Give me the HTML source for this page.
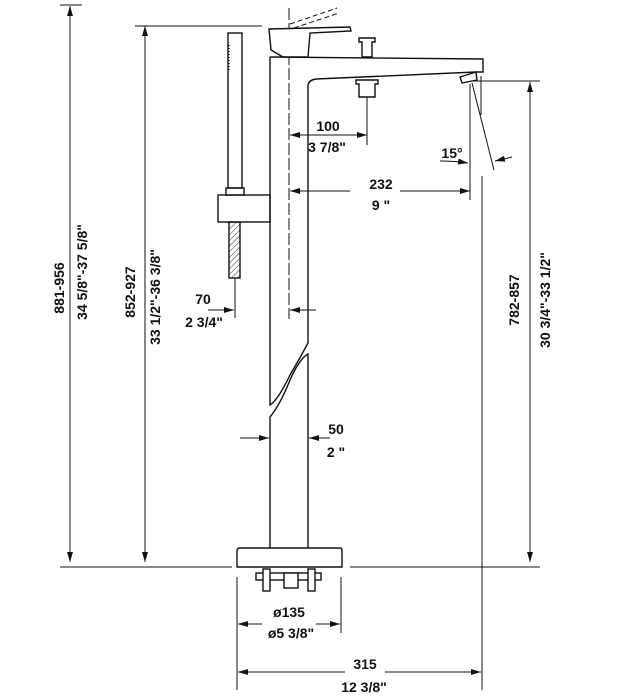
<!DOCTYPE html>
<html><head><meta charset="utf-8"><style>
html,body{margin:0;padding:0;background:#fff;width:625px;height:700px;overflow:hidden}
text{font-family:"Liberation Sans",sans-serif;font-weight:bold;font-size:14px;fill:#111}
</style></head><body>
<svg width="625" height="700" viewBox="0 0 625 700" xmlns="http://www.w3.org/2000/svg">
<defs>
<marker id="a" viewBox="0 0 10 6" refX="10" refY="3" markerWidth="10" markerHeight="6" orient="auto-start-reverse" markerUnits="userSpaceOnUse"><path d="M0,0 L10,3 L0,6 Z" fill="#111"/></marker>
<pattern id="h" width="4" height="4" patternUnits="userSpaceOnUse" patternTransform="rotate(45)"><line x1="0" y1="0" x2="0" y2="4" stroke="#333" stroke-width="1"/></pattern>
</defs>
<g stroke="#111" fill="none" stroke-width="1">
<!-- left dims -->
<line x1="70" y1="6" x2="70" y2="562" marker-start="url(#a)" marker-end="url(#a)"/>
<line x1="60" y1="5" x2="82" y2="5"/>
<line x1="145" y1="26" x2="145" y2="562" marker-start="url(#a)" marker-end="url(#a)"/>
<line x1="135" y1="26" x2="262" y2="26"/>
<!-- base line -->
<line x1="60" y1="567" x2="232" y2="567"/>
<line x1="350" y1="567" x2="540" y2="567"/>
<!-- right dim -->
<line x1="530" y1="82" x2="530" y2="562" marker-start="url(#a)" marker-end="url(#a)"/>
<line x1="470" y1="81" x2="540" y2="81"/>
<line x1="482" y1="176" x2="482" y2="690"/>
<line x1="481" y1="76" x2="481" y2="115"/>
<!-- center line -->
<line x1="289" y1="8" x2="289" y2="319" stroke-dasharray="12,3"/>
</g>
<g stroke="#111" fill="none" stroke-width="1.4">
<!-- dashed lever -->
<line x1="290" y1="24" x2="337" y2="8" stroke-dasharray="5,3" stroke-width="1"/>
<line x1="294" y1="28" x2="339" y2="13" stroke-dasharray="5,3" stroke-width="1"/>
<!-- lever -->
<path d="M269,29 L350,27 L351,31 L310,33 L308,57 L283,57 L271,50 Z" fill="#fff"/>
<!-- column -->
<path d="M270,57 L270,405 Q278,400 290,375 Q300,358 308,343 L308,85 Q309,80 316,79 L476,72"/>
<path d="M270,417 L270,548 M308,548 L308,354 Q300,358 290,380 Q280,405 270,417"/>
<path d="M270,57 L483,59 L483,72 L476,72"/>
<!-- aerator -->
<path d="M460,77 L476,72 L477,80 L462,83 Z"/>
<!-- knob top -->
<path d="M359,38 L375,38 L375,42 L372,42 L372,57 L362,57 L362,42 L359,42 Z"/>
<!-- knob below -->
<path d="M356,80 L378,80 L378,84 L375,84 L375,97 L359,97 L359,84 L356,84 Z"/>
<!-- hand shower -->
<rect x="228" y="33" width="14" height="155"/>
<line x1="229" y1="45" x2="229" y2="70" stroke-dasharray="1,2"/>
<rect x="226" y="188" width="18" height="7"/>
<rect x="218" y="195" width="52" height="27"/>
<rect x="229" y="222" width="11" height="56" fill="url(#h)"/>
<!-- base -->
<path d="M240,548 L340,548 Q342,548 342,551 L342,567 L237,567 L237,551 Q237,548 240,548 Z"/>
<rect x="256" y="573" width="65" height="7"/>
<rect x="263" y="569" width="7" height="22" fill="#fff"/>
<rect x="308" y="569" width="7" height="22" fill="#fff"/>
<rect x="284" y="573" width="14" height="15" fill="#fff"/>
</g>
<g stroke="#111" fill="none" stroke-width="1">
<!-- stream -->
<line x1="472" y1="83" x2="494" y2="170"/>
<line x1="512" y1="157" x2="495" y2="161" marker-end="url(#a)"/>
<path d="M440,161 Q455,161 468,163" marker-end="url(#a)"/>
<line x1="470" y1="84" x2="470" y2="200"/>
<!-- 100 -->
<line x1="290" y1="135" x2="367" y2="135" marker-start="url(#a)" marker-end="url(#a)"/>
<line x1="367" y1="97" x2="367" y2="145"/>
<!-- 232 -->
<line x1="290" y1="191" x2="350" y2="191" marker-start="url(#a)"/>
<line x1="400" y1="191" x2="470" y2="191" marker-end="url(#a)"/>
<!-- 70 -->
<line x1="235" y1="278" x2="235" y2="318"/>
<line x1="208" y1="310" x2="234" y2="310" marker-end="url(#a)"/>
<line x1="316" y1="310" x2="290" y2="310" marker-end="url(#a)"/>
<!-- 50 -->
<line x1="240" y1="438" x2="269" y2="438" marker-end="url(#a)"/>
<line x1="330" y1="438" x2="309" y2="438" marker-end="url(#a)"/>
<!-- ø135 -->
<line x1="237" y1="577" x2="237" y2="690"/>
<line x1="341" y1="577" x2="341" y2="633"/>
<line x1="238" y1="624" x2="262" y2="624" marker-start="url(#a)"/>
<line x1="316" y1="624" x2="340" y2="624" marker-end="url(#a)"/>
<!-- 315 -->
<line x1="238" y1="672" x2="345" y2="672" marker-start="url(#a)"/>
<line x1="385" y1="672" x2="481" y2="672" marker-end="url(#a)"/>
</g>
<g>
<text x="328" y="131" text-anchor="middle">100</text>
<text x="327" y="152" text-anchor="middle">3 7/8"</text>
<text x="452" y="158" text-anchor="middle">15°</text>
<text x="381" y="189" text-anchor="middle">232</text>
<text x="381" y="210" text-anchor="middle">9 "</text>
<text x="203" y="304" text-anchor="middle">70</text>
<text x="204" y="327" text-anchor="middle">2 3/4"</text>
<text x="336" y="434" text-anchor="middle">50</text>
<text x="336" y="457" text-anchor="middle">2 "</text>
<text x="289" y="617" text-anchor="middle">ø135</text>
<text x="291" y="638" text-anchor="middle">ø5 3/8"</text>
<text x="365" y="669" text-anchor="middle">315</text>
<text x="364" y="692" text-anchor="middle">12 3/8"</text>
<text transform="translate(64,288) rotate(-90)" text-anchor="middle">881-956</text>
<text transform="translate(87,272) rotate(-90)" text-anchor="middle">34 5/8"-37 5/8"</text>
<text transform="translate(135,292) rotate(-90)" text-anchor="middle">852-927</text>
<text transform="translate(160,297) rotate(-90)" text-anchor="middle">33 1/2"-36 3/8"</text>
<text transform="translate(519,300) rotate(-90)" text-anchor="middle">782-857</text>
<text transform="translate(550,300) rotate(-90)" text-anchor="middle">30 3/4"-33 1/2"</text>
</g>
</svg>
</body></html>
